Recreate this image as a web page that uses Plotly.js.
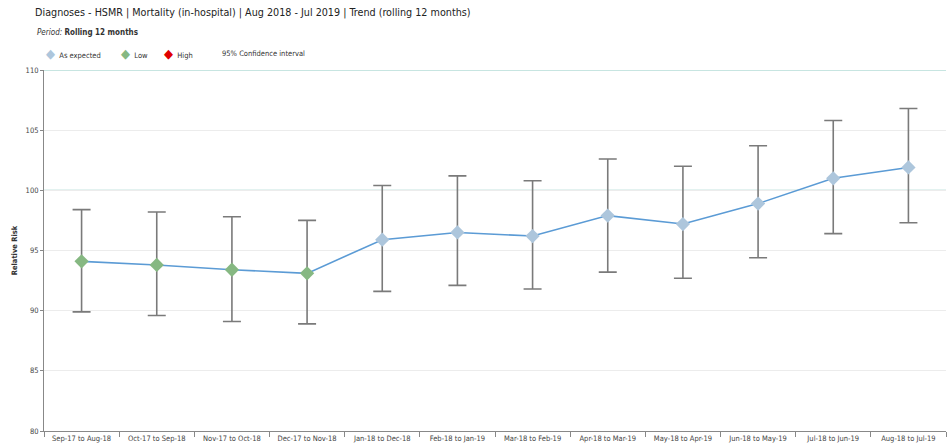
<!DOCTYPE html>
<html>
<head>
<meta charset="utf-8">
<script src="https://cdn.plot.ly/plotly-3.0.1.min.js"></script>
<style>html,body{margin:0;padding:0;background:#fff;}#chart{width:948px;height:447px;}</style>
</head>
<body>
<div id="chart"></div>
<script>
const periods = ["Sep-17 to Aug-18","Oct-17 to Sep-18","Nov-17 to Oct-18","Dec-17 to Nov-18","Jan-18 to Dec-18","Feb-18 to Jan-19","Mar-18 to Feb-19","Apr-18 to Mar-19","May-18 to Apr-19","Jun-18 to May-19","Jul-18 to Jun-19","Aug-18 to Jul-19"];
const relativeRisk = [94.1, 93.8, 93.4, 93.1, 95.9, 96.5, 96.2, 97.9, 97.2, 98.9, 101.0, 101.9];
const upperCI = [98.4, 98.2, 97.8, 97.5, 100.4, 101.2, 100.8, 102.6, 102.0, 103.7, 105.8, 106.8];
const lowerCI = [89.9, 89.6, 89.1, 88.9, 91.6, 92.1, 91.8, 93.2, 92.7, 94.4, 96.4, 97.3];
const status = ["Low","Low","Low","Low","As expected","As expected","As expected","As expected","As expected","As expected","As expected","As expected"];
const yTicks = [80, 85, 90, 95, 100, 105, 110];
const legendNames = ["As expected", "Low", "High", "95% Confidence interval"];

const statusColors = {"As expected": "#adc6dc", "Low": "#86b882", "High": "#e00000"};
const FONT = "'DejaVu Sans Condensed', 'Liberation Sans Narrow', sans-serif";

const main = {
  type: "scatter", mode: "lines+markers",
  x: periods, y: relativeRisk,
  line: {color: "#5b9bd5", width: 1.6},
  marker: {symbol: "diamond", size: 11, color: status.map(s => statusColors[s])},
  error_y: {
    type: "data", symmetric: false,
    array: upperCI.map((u, i) => u - relativeRisk[i]),
    arrayminus: relativeRisk.map((v, i) => v - lowerCI[i]),
    color: "#7a7a7a", thickness: 1.6, width: 9
  },
  showlegend: false, hoverinfo: "x+y"
};

// manual legend (compact spacing like the reference)
const legendX = [0.0, 0.083, 0.131, 0.195];
const legendAnn = legendNames.map((name, i) => ({
  text: statusColors[name]
    ? '<span style="color:' + statusColors[name] + ';font-size:13px">◆</span>  ' + name
    : name,
  xref: "paper", yref: "paper", x: legendX[i], y: 1.047, xanchor: "left", yanchor: "middle",
  showarrow: false, font: {family: FONT, size: 7.5, color: "#333"}
}));

const layout = {
  width: 948, height: 447,
  margin: {l: 44, r: 2, t: 70, b: 16},
  paper_bgcolor: "#fff", plot_bgcolor: "#fff",
  font: {family: FONT, size: 8, color: "#333"},
  title: {
    text: "Diagnoses - HSMR | Mortality (in-hospital) | Aug 2018 - Jul 2019 | Trend (rolling 12 months)",
    x: 0.037, xanchor: "left", xref: "container", y: 0.982, yanchor: "top",
    font: {family: FONT, size: 10.7, color: "#222"}
  },
  annotations: [{
    text: "<i>Period:</i> <b>Rolling 12 months</b>",
    xref: "paper", yref: "paper", x: -0.01, y: 1.105, xanchor: "left", yanchor: "middle",
    showarrow: false, font: {family: FONT, size: 8, color: "#333"}
  }].concat(legendAnn),
  showlegend: false,
  xaxis: {
    type: "category", categoryorder: "array", categoryarray: periods,
    range: [-0.5, periods.length - 0.5], autorange: false,
    showline: true, linecolor: "#888", linewidth: 1,
    ticks: "outside", tickson: "boundaries", ticklen: 5, tickcolor: "#888",
    showgrid: false, tickfont: {family: FONT, size: 7.5, color: "#444"},
    tickangle: 0, fixedrange: true
  },
  yaxis: {
    range: [80, 110], tickvals: yTicks, ticktext: yTicks.map(String),
    showline: true, linecolor: "#888", linewidth: 1,
    ticks: "outside", ticklen: 3, tickcolor: "#888",
    showgrid: true, gridcolor: "#ececec", gridwidth: 1, zeroline: false,
    tickfont: {family: FONT, size: 7.5, color: "#444"},
    title: {text: "<b>Relative Risk</b>", font: {family: FONT, size: 7.5, color: "#333"}, standoff: 6}
  },
  shapes: [
    {type: "line", xref: "paper", x0: 0, x1: 1, yref: "y", y0: 100, y1: 100, line: {color: "#8fcbc4", width: 1.2}, layer: "below"},
    {type: "line", xref: "paper", x0: 0, x1: 1, yref: "y", y0: 110, y1: 110, line: {color: "#8fcbc4", width: 1.2}, layer: "below"}
  ]
};

Plotly.newPlot("chart", [main], layout, {displayModeBar: false, staticPlot: true});
</script>
</body>
</html>
